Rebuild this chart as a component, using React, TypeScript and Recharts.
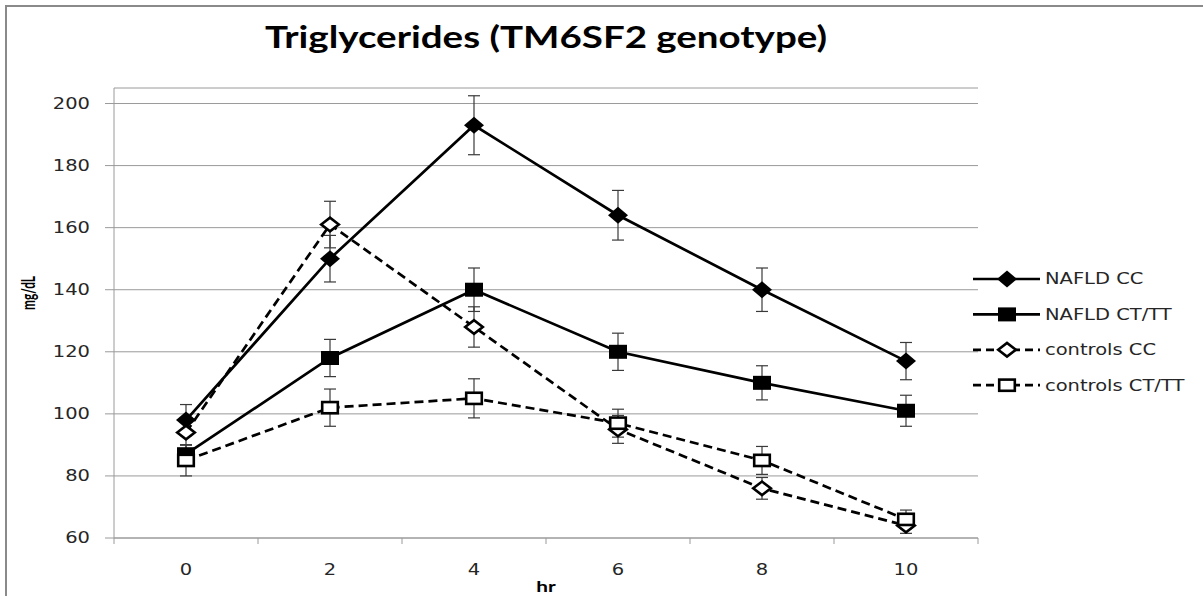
import React from 'react';
import { LineChart, Line, XAxis, YAxis, CartesianGrid, ErrorBar, Legend } from 'recharts';

// ---- data ----
const hours = ['0', '2', '4', '6', '8', '10'];
const nafldCC = [98, 150, 193, 164, 140, 117];
const nafldCCErr = [5, 7.5, 9.5, 8, 7, 6];
const nafldCTTT = [87, 118, 140, 120, 110, 101];
const nafldCTTTErr = [3, 6, 7, 6, 5.5, 5];
const controlsCC = [94, 161, 128, 95, 76, 64];
const controlsCCErr = [4, 7.5, 6.5, 4.5, 3.5, 2.5];
const controlsCTTT = [85, 102, 105, 97, 85, 66];
const controlsCTTTErr = [5, 6, 6.3, 4.5, 4.5, 3];
const yTicks = [60, 80, 100, 120, 140, 160, 180, 200];
const yDomain = [60, 205];
const titleText = 'Triglycerides (TM6SF2 genotype)';
const xLabel = 'hr';
const yLabel = 'mg/dL';

const series = [
  { key: 'nafldCC', name: 'NAFLD CC', dashed: false, shape: 'diamond', filled: true },
  { key: 'nafldCTTT', name: 'NAFLD CT/TT', dashed: false, shape: 'square', filled: true },
  { key: 'controlsCC', name: 'controls CC', dashed: true, shape: 'diamond', filled: false },
  { key: 'controlsCTTT', name: 'controls CT/TT', dashed: true, shape: 'square', filled: false },
];

const data = hours.map((hr, i) => ({
  hr,
  nafldCC: nafldCC[i],
  nafldCCErr: nafldCCErr[i],
  nafldCTTT: nafldCTTT[i],
  nafldCTTTErr: nafldCTTTErr[i],
  controlsCC: controlsCC[i],
  controlsCCErr: controlsCCErr[i],
  controlsCTTT: controlsCTTT[i],
  controlsCTTTErr: controlsCTTTErr[i],
}));

// ---- layout ----
const W = 1203;
const H = 596;
const PLOT_LEFT = 114;
const PLOT_RIGHT = 978;
const PLOT_TOP = 88;
const PLOT_BOTTOM = 538;
const Y_AXIS_W = 60;
const X_AXIS_H = 30;
const BAND = (PLOT_RIGHT - PLOT_LEFT) / hours.length;
const STRETCH = 1.3;
const SMALL_FONT = 'DejaVu Sans, Verdana, sans-serif';
const TITLE_FONT = 'Lato, Carlito, Calibri, sans-serif';
const TEXT_COLOR = '#262626';
const GRID = '#9a9a9a';

function Marker({ cx, cy, shape, filled }: any) {
  if (cx == null || cy == null) return null;
  if (shape === 'diamond') {
    if (filled) {
      const hw = 10, hh = 8.5;
      return <polygon points={`${cx - hw},${cy} ${cx},${cy - hh} ${cx + hw},${cy} ${cx},${cy + hh}`} fill="#000" />;
    }
    const hw = 8.8, hh = 6.8;
    return (
      <polygon
        points={`${cx - hw},${cy} ${cx},${cy - hh} ${cx + hw},${cy} ${cx},${cy + hh}`}
        fill="#fff"
        stroke="#000"
        strokeWidth={2.6}
      />
    );
  }
  if (filled) {
    return <rect x={cx - 9} y={cy - 7} width={18} height={14} fill="#000" />;
  }
  return <rect x={cx - 7.8} y={cy - 5.6} width={15.6} height={11.2} fill="#fff" stroke="#000" strokeWidth={2.6} />;
}

const YTick = (props: any) => {
  const { x, y, payload } = props;
  return (
    <text
      transform={`translate(${x},${y}) scale(${STRETCH},1)`}
      textAnchor="end"
      dy="0.36em"
      fontSize={15}
      fontFamily={SMALL_FONT}
      fill={TEXT_COLOR}
    >
      {payload.value}
    </text>
  );
};

const XTick = (props: any) => {
  const { x, payload, index } = props;
  const half = BAND / 2;
  return (
    <g>
      <line x1={x - half} x2={x - half} y1={PLOT_BOTTOM} y2={PLOT_BOTTOM + 6} stroke={GRID} strokeWidth={1} />
      {index === hours.length - 1 && (
        <line x1={x + half} x2={x + half} y1={PLOT_BOTTOM} y2={PLOT_BOTTOM + 6} stroke={GRID} strokeWidth={1} />
      )}
      <text
        transform={`translate(${x},${PLOT_BOTTOM + 37}) scale(${STRETCH},1)`}
        textAnchor="middle"
        fontSize={15}
        fontFamily={SMALL_FONT}
        fill={TEXT_COLOR}
      >
        {payload.value}
      </text>
    </g>
  );
};

const renderLegend = () => (
  <svg width={232} height={140} style={{ display: 'block' }}>
    {series.map((s, i) => {
      const y = 17 + i * 35.4;
      return (
        <g key={s.key}>
          <line
            x1={3}
            x2={70}
            y1={y}
            y2={y}
            stroke="#000"
            strokeWidth={2.7}
            strokeDasharray={s.dashed ? '8 5' : undefined}
          />
          <Marker cx={37} cy={y} shape={s.shape} filled={s.filled} />
          <text
            transform={`translate(75,${y}) scale(${STRETCH},1)`}
            dy="0.36em"
            fontSize={15}
            fontFamily={SMALL_FONT}
            fill={TEXT_COLOR}
          >
            {s.name}
          </text>
        </g>
      );
    })}
  </svg>
);

export default function App() {
  return (
    <div style={{ position: 'absolute', left: 0, top: 0, width: W, height: H, overflow: 'hidden', background: '#fff' }}>
      <LineChart
        width={W}
        height={H}
        data={data}
        margin={{
          top: PLOT_TOP,
          left: PLOT_LEFT - Y_AXIS_W,
          right: W - PLOT_RIGHT,
          bottom: H - PLOT_BOTTOM - X_AXIS_H,
        }}
      >
        <CartesianGrid vertical={false} stroke={GRID} strokeWidth={1} />
        <XAxis
          dataKey="hr"
          type="category"
          scale="band"
          height={X_AXIS_H}
          tickLine={false}
          axisLine={{ stroke: GRID, strokeWidth: 1 }}
          tick={XTick}
          interval={0}
        />
        <YAxis
          type="number"
          domain={yDomain}
          ticks={yTicks}
          allowDataOverflow
          width={Y_AXIS_W}
          tickSize={9}
          tickMargin={15}
          axisLine={{ stroke: GRID, strokeWidth: 1 }}
          tickLine={{ stroke: GRID, strokeWidth: 1 }}
          tick={YTick}
          interval={0}
        />
        <Legend
          layout="horizontal"
          verticalAlign="middle"
          align="center"
          wrapperStyle={{ left: 970, top: 262, width: 232 }}
          content={renderLegend}
        />
        {series.map((s) => (
          <Line
            key={s.key}
            type="linear"
            dataKey={s.key}
            name={s.name}
            stroke="#000"
            strokeWidth={2.7}
            strokeDasharray={s.dashed ? '9 5' : undefined}
            isAnimationActive={false}
            activeDot={false}
            dot={(p: any) => (
              <Marker key={`${s.key}-${p.index}`} cx={p.cx} cy={p.cy} shape={s.shape} filled={s.filled} />
            )}
          >
            <ErrorBar
              dataKey={`${s.key}Err`}
              direction="y"
              width={6}
              strokeWidth={1.2}
              stroke="#3a3a3a"
              isAnimationActive={false}
            />
          </Line>
        ))}
      </LineChart>
      <svg
        width={W}
        height={H}
        style={{ position: 'absolute', left: 0, top: 0, pointerEvents: 'none' }}
      >
        <rect x={6} y={6} width={W + 10} height={H + 10} fill="none" stroke="#8a8a8a" strokeWidth={2} />
        <text
          x={(PLOT_LEFT + PLOT_RIGHT) / 2}
          y={48}
          textAnchor="middle"
          fontSize={30}
          fontWeight="bold"
          fontFamily={TITLE_FONT}
          fill="#000"
          textLength={562}
          lengthAdjust="spacingAndGlyphs"
        >
          {titleText}
        </text>
        <text
          transform={`translate(35,293) rotate(-90) scale(1,1.3)`}
          textAnchor="middle"
          fontSize={15}
          fontWeight="bold"
          fontFamily={TITLE_FONT}
          fill="#000"
          textLength={34}
          lengthAdjust="spacingAndGlyphs"
        >
          {yLabel}
        </text>
        <text
          transform={`translate(${(PLOT_LEFT + PLOT_RIGHT) / 2},592) scale(${STRETCH},1)`}
          textAnchor="middle"
          fontSize={16}
          fontWeight="bold"
          fontFamily={TITLE_FONT}
          fill="#000"
        >
          {xLabel}
        </text>
      </svg>
    </div>
  );
}
